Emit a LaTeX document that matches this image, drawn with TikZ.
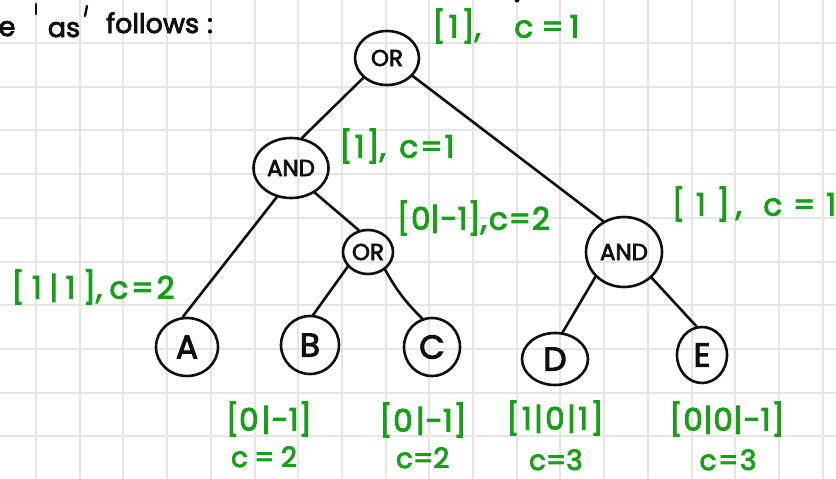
\documentclass[tikz,border=0pt]{standalone}
\usepackage{fontspec}
\setmainfont{Poppins}[FakeBold=3]
\usetikzlibrary{shapes.geometric}
\definecolor{ink}{RGB}{15,15,15}
\definecolor{pen}{RGB}{24,158,24}
\definecolor{paper}{RGB}{229,229,229}
% spread a short handwritten-style label over a given width
\newcommand\spreadto[2]{\makebox[#1][s]{#2}}
\begin{document}
\begin{tikzpicture}[x=1pt,y=-1pt,
  gate/.style={ellipse, draw=ink, line width=2.6pt, inner sep=0pt, text=ink,
    font=\fontsize{23}{23}\selectfont},
  leaf/.style={gate, font=\fontsize{33}{33}\selectfont},
  edge/.style={draw=ink, line width=2.6pt, line cap=round},
  note/.style={text=pen, inner sep=0pt, font=\fontsize{31}{31}\selectfont},
  cost/.style={note, anchor=base, font=\fontsize{28}{28}\selectfont},
  prose/.style={text=ink, inner sep=0pt, font=\fontsize{27}{27}\selectfont},
  tick/.style={draw=ink, line width=2.4pt, line cap=round},
]
\useasboundingbox (0,0) rectangle (836,479);
\fill[white] (0,0) rectangle (836,479);

% squared paper
\foreach \i in {0,...,18}
  \draw[paper, line width=2pt] ({36+43.7*\i},0) -- ({36+43.7*\i},479);
\foreach \j in {0,...,9}
  \draw[paper, line width=2pt] (0,{43+43.7*\j}) -- (836,{43+43.7*\j});

% end of the sentence above the tree
\node[prose, anchor=base] (w1) at (7,36) {e};
\node[prose, anchor=base] (w2) at (64,37) {as};
\node[prose, anchor=base west] (w3) at (106,33) {follows\hspace{8pt}:};
\draw[tick] (36,4) -- (36,14);
\draw[tick] (87,6) -- (85,16);
\fill[ink] (517,0) circle (2.5pt);

% gates
\node[gate, minimum width=64pt, minimum height=54pt] (or1)  at (387,58)  {OR};
\node[gate, minimum width=75pt, minimum height=60pt] (and1) at (291,168) {AND};
\node[gate, minimum width=50pt, minimum height=44pt] (or2)  at (368,252) {OR};
\node[gate, minimum width=76pt, minimum height=70pt] (and2) at (624,252) {AND};

% leaves
\node[leaf, minimum width=62pt, minimum height=58pt] (a) at (187,347) {A};
\node[leaf, minimum width=58pt, minimum height=58pt] (b) at (310,345) {B};
\node[leaf, minimum width=56pt, minimum height=58pt] (c) at (432,347) {C};
\node[leaf, minimum width=66pt, minimum height=52pt] (d) at (555,359) {D};
\node[leaf, minimum width=50pt, minimum height=56pt] (e) at (702,355) {E};

% connectors
\draw[edge] (or1.220) -- (and1.70);
\draw[edge] (or1.325) -- (and2.124);
\draw[edge] (and1.244) -- (a.98);
\draw[edge] (and1.314) -- (or2.113);
\draw[edge] (or2.216) -- (b.84);
\draw[edge] (or2.314) to[bend right=8] (c.109);
\draw[edge] (and2.221) -- (d.74);
\draw[edge] (and2.317) -- (e.101);

% annotations
\node[note] (n1) at (506,26)
  {\spreadto{147pt}{[\hspace{3pt}1\hspace{3pt}],\hfill c\hspace{8pt}=\hspace{6pt}1}};
\node[note] (n2) at (397,146)
  {\spreadto{115pt}{[\hspace{2pt}1\hspace{2pt}],\hfill c\hspace{2pt}=\hspace{2pt}1}};
\node[note] (n3) at (470,218)
  {\spreadto{146pt}{[\hspace{1pt}0\hfill|\hspace{1pt}-1\hfill],\hspace{2pt}c\hspace{1pt}=\hspace{1pt}2}};
\node[note] (n4) at (754,204)
  {\spreadto{164pt}{[\hfill1\hfill]\hspace{6pt},\hfill\hfill c\hfill=\hfill1}};
\node[note] (n5) at (93,287)
  {\spreadto{163pt}{[\hfill1\hfill|\hfill1\hfill],\hfill c\hspace{3pt}=\hspace{3pt}2}};
\node[note] (n6) at (268,419)
  {\spreadto{84pt}{[\hfill0\hspace{3pt}|\hspace{1pt}-1\hfill]}};
\node[cost] (n7) at (264,467)
  {\spreadto{66pt}{c\hfill=\hfill2}};
\node[note] (n8) at (423,420)
  {\spreadto{87pt}{[\hfill0\hspace{3pt}|\hspace{1pt}-1\hfill]}};
\node[cost] (n9) at (422,468)
  {\spreadto{52pt}{c\hfill=\hfill2}};
\node[note] (n10) at (555,418)
  {\spreadto{97pt}{[\hfill1\hfill|\hfill0\hfill|\hfill1\hfill]}};
\node[cost] (n11) at (555,470)
  {\spreadto{52pt}{c\hfill=\hfill3}};
\node[note] (n12) at (727,419)
  {\spreadto{115pt}{[\hfill0\hfill|\hfill0\hfill|\hspace{1pt}-1\hfill]}};
\node[cost] (n13) at (728,470)
  {\spreadto{57pt}{c\hfill=\hfill3}};
\end{tikzpicture}
\end{document}
